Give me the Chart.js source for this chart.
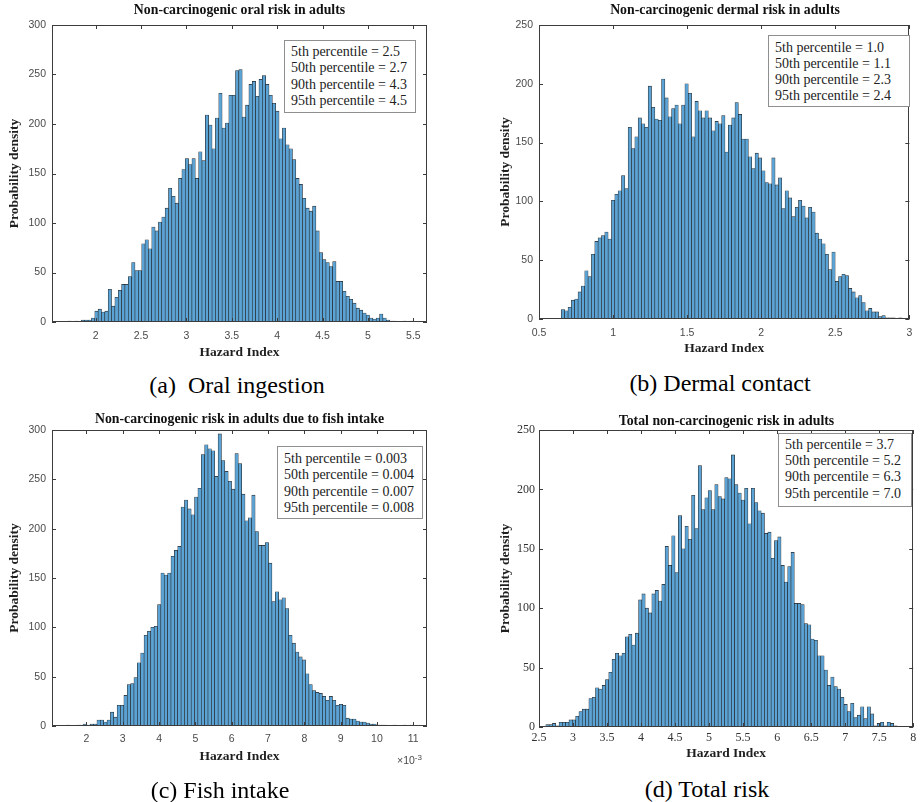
<!DOCTYPE html>
<html>
<head>
<meta charset="utf-8">
<script src="https://cdn.jsdelivr.net/npm/chart.js@4.4.1/dist/chart.umd.min.js"></script>
<style>
  html, body { margin: 0; padding: 0; background: #fff; overflow: hidden; }
  body { width: 920px; height: 802px; position: relative; }
  canvas { position: absolute; }
  .ttl { position: absolute; transform: translate(-50%, -50%); font: bold 13.8px "Liberation Serif", serif; color: #111; white-space: nowrap; line-height: 1; }
  .stats { position: absolute; box-sizing: border-box; border: 1px solid #8f8f8f; background: #fff; font: 14px "Liberation Serif", serif; color: #222; white-space: nowrap; padding-left: 6px; }
  .cap { position: absolute; transform: translate(-50%, -50%); font: 24px "Liberation Serif", serif; color: #000; white-space: nowrap; line-height: 1; }
  .exp { position: absolute; font: 10.5px "Liberation Sans", sans-serif; color: #4a4a4a; white-space: nowrap; line-height: 12px; }
  .exp sup { font-size: 8px; vertical-align: 4px; }
</style>
</head>
<body>

<canvas id="oral" width="440" height="362" style="left:0;top:0"></canvas>
<canvas id="dermal" width="429" height="359" style="left:491px;top:0"></canvas>
<canvas id="fish" width="440" height="366" style="left:0;top:400px"></canvas>
<canvas id="total" width="429" height="367" style="left:491px;top:400px"></canvas>

<div class="ttl" style="left:239.5px;top:10px">Non-carcinogenic oral risk in adults</div>
<div class="ttl" style="left:725px;top:10px">Non-carcinogenic dermal risk in adults</div>
<div class="ttl" style="left:239.5px;top:419px">Non-carcinogenic risk in adults due to fish intake</div>
<div class="ttl" style="left:726.5px;top:421px">Total non-carcinogenic risk in adults</div>

<div class="stats" id="oralStats" style="left:284px;top:40px;width:132px;height:73px;padding-top:3px;line-height:16.4px"></div>
<div class="stats" id="dermalStats" style="left:768px;top:35px;width:142px;height:72px;padding-top:4px;line-height:16.1px"></div>
<div class="stats" id="fishStats" style="left:277px;top:446px;width:146px;height:73px;padding-top:4px;line-height:16.4px"></div>
<div class="stats" id="totalStats" style="left:778px;top:433px;width:134px;height:74px;padding-top:3px;line-height:16.2px"></div>

<div class="exp" style="left:397px;top:752px">×10<sup>-3</sup></div>

<div class="cap" style="left:237px;top:385px">(a)&nbsp; Oral ingestion</div>
<div class="cap" style="left:720px;top:383px">(b) Dermal contact</div>
<div class="cap" style="left:220px;top:790px">(c) Fish intake</div>
<div class="cap" style="left:707px;top:789px">(d) Total risk</div>

<script>
// histogram bins: first bin edge, bin width, counts per bin
var oralEdge = 1.696
var oralBin = 0.0369
var oralCounts = [1, 0, 1, 0, 2, 2, 2, 4,
  11, 13, 10, 11, 33, 16, 25, 32, 38, 38, 46, 60, 52, 52, 79, 83, 74, 96, 92, 101, 106, 115,
  135, 127, 120, 145, 154, 165, 159, 165, 145, 172, 163, 209, 199, 175, 206, 231, 196, 201,
  229, 229, 254, 255, 207, 219, 240, 243, 228,
  245, 249, 240, 229, 221, 213, 185, 196, 179, 175, 164, 145, 139, 125, 115, 112, 117, 92,
  70, 63, 60, 56, 61, 41, 41, 31, 26, 23, 19, 14, 12, 9, 7, 4, 3, 4, 8, 4, 2, 1, 1, 0, 0, 1, 0, 1]
var oralXRange = [1.52, 5.65]
var oralStats = ['5th percentile = 2.5', '50th percentile = 2.7', '90th percentile = 4.3', '95th percentile = 4.5']

var dermalEdge = 0.651
var dermalBin = 0.02254
var dermalCounts = [8, 7, 10, 16, 17, 23, 28, 41, 36, 55, 66, 69, 71, 74, 68, 101, 106, 109, 122, 111,
  163, 145, 155, 171, 166, 163, 198, 180, 170, 169, 204, 188, 172, 179, 182, 166, 182, 200, 192,
  155, 185, 177, 171, 177,
  171, 160, 168, 166, 173, 142, 165, 171, 184, 174, 153, 153, 138, 128, 141, 137, 126, 116, 115,
  137, 114, 120, 94, 109, 103, 87, 95, 101, 96, 86, 95, 91, 73, 68, 64, 55, 42, 57, 32, 36, 38,
  37, 26, 23, 18, 20, 14, 7, 9, 6, 6, 2, 3, 1, 1, 1, 0, 1]
var dermalXRange = [0.5, 3]
var dermalStats = ['5th percentile = 1.0', '50th percentile = 1.1', '90th percentile = 2.3', '95th percentile = 2.4']

// fish intake hazard index in units of 1e-3
var fishEdge = 1.454
var fishBin = 0.0927
var fishCounts = [1, 0, 0, 1, 1, 2, 1, 2, 2, 6, 6, 4, 6, 14, 9, 21, 21, 31, 42, 43, 49, 64, 74, 92, 96,
  100, 101, 123, 155, 153, 155, 172, 178, 182, 222, 229, 220, 214, 232, 241, 275, 285, 281, 279,
  253, 296, 269, 258, 248, 240, 276, 266, 235, 208, 211, 234, 197, 183, 183, 186, 165, 126, 136,
  128, 130, 119, 92, 84, 75, 70, 67, 53, 42, 36, 34, 33, 30, 26, 30, 26, 21, 22, 21, 8, 7, 7, 5,
  4, 4, 3, 2, 2, 1, 1, 1, 0, 0, 1, 0, 0, 1, 0, 1]
var fishXRange = [1.05, 11.38]
var fishStats = ['5th percentile = 0.003', '50th percentile = 0.004', '90th percentile = 0.007', '95th percentile = 0.008']

var totalEdge = 2.6
var totalBin = 0.0487
var totalCounts = [2, 2, 3, 1, 4, 4, 4, 6, 6, 9, 13, 15, 15, 24, 25, 33, 32, 35, 40, 46, 57, 62, 60,
  62, 76, 78, 69, 79, 107, 112, 100, 96, 112, 115, 106, 120, 152, 136, 161, 130, 178, 150, 169,
  158, 195, 167, 220, 183, 193, 199, 183,
  204, 194, 192, 210, 209, 229, 204, 197, 191, 201, 171, 201, 189, 182, 180, 163, 164, 142, 157,
  160, 136, 122, 135, 147, 104, 104, 103, 87, 86, 74, 73, 60, 60, 48, 35, 42, 34, 32, 25, 19, 13,
  20, 8, 10, 17, 7, 17, 11, 1, 3, 4, 1, 4, 3, 1]
var totalXRange = [2.5, 8]
var totalStats = ['5th percentile = 3.7', '50th percentile = 5.2', '90th percentile = 6.3', '95th percentile = 7.0']

var barFill = 'rgb(92,163,213)'
var barEdge = 'rgba(25,25,25,0.95)'
var sansTicks = { family: 'Liberation Sans', size: 10.5 }
var serifTicks = { family: 'Liberation Serif', size: 12 }
var axisFont = { family: 'Liberation Serif', size: 13.5, weight: 'bold' }

function binPoints(edge, bin, counts) {
  return counts.map(function (c, i) { return { x: edge + (i + 0.5) * bin, y: c } })
}

// matlab style box with inward ticks on all four sides
var boxTicks = {
  id: 'boxTicks',
  afterDatasetsDraw: function (chart) {
    var a = chart.chartArea, ctx = chart.ctx
    var xs = chart.scales.x, ys = chart.scales.y
    ctx.save()
    ctx.strokeStyle = '#3c3c3c'
    ctx.lineWidth = 1
    ctx.beginPath()
    xs.ticks.forEach(function (t) {
      var px = Math.round(xs.getPixelForValue(t.value)) + 0.5
      ctx.moveTo(px, a.bottom); ctx.lineTo(px, a.bottom - 4)
      ctx.moveTo(px, a.top); ctx.lineTo(px, a.top + 4)
    })
    ys.ticks.forEach(function (t) {
      var py = Math.round(ys.getPixelForValue(t.value)) + 0.5
      ctx.moveTo(a.left, py); ctx.lineTo(a.left + 4, py)
      ctx.moveTo(a.right, py); ctx.lineTo(a.right - 4, py)
    })
    ctx.stroke()
    ctx.strokeRect(Math.round(a.left) + 0.5, Math.round(a.top) + 0.5,
      Math.round(a.right - a.left) - 1, Math.round(a.bottom - a.top) - 1)
    ctx.restore()
  }
}

function drawHist(id, p) {
  new Chart(id, {
    type: 'bar',
    data: {
      datasets: [{
        data: binPoints(p.edge, p.bin, p.counts),
        backgroundColor: barFill,
        borderColor: barEdge,
        borderWidth: 0.6,
        barPercentage: 1,
        categoryPercentage: 1
      }]
    },
    options: {
      responsive: false,
      animation: false,
      devicePixelRatio: 1,
      layout: { padding: { top: p.top, right: p.right, left: 0, bottom: 0 } },
      plugins: { legend: { display: false }, tooltip: { enabled: false } },
      scales: {
        x: {
          type: 'linear', min: p.xRange[0], max: p.xRange[1], offset: false,
          grid: { display: false, drawTicks: false }, border: { display: false },
          ticks: {
            stepSize: p.xStep, includeBounds: false, autoSkip: false, maxRotation: 0,
            padding: p.xPad, font: p.tickFont, color: p.tickColor,
            callback: function (v) { return String(+v.toFixed(2)) }
          },
          title: { display: true, text: 'Hazard Index', font: axisFont, color: '#1f1f1f',
            padding: { top: 0, bottom: p.xTitlePad } },
          afterFit: function (s) { s.height = 40 }
        },
        y: {
          min: 0, max: p.yMax,
          grid: { display: false, drawTicks: false }, border: { display: false },
          ticks: { stepSize: 50, padding: p.yPad, font: p.tickFont, color: p.tickColor },
          title: { display: true, text: 'Probability density', font: axisFont, color: '#1f1f1f',
            padding: { top: 6, bottom: 0 } },
          afterFit: function (s) { s.width = p.yWidth }
        }
      }
    },
    plugins: [boxTicks]
  })
}

function fillStats(id, lines) {
  document.getElementById(id).innerHTML = lines.map(function (l) { return '<div>' + l + '</div>' }).join('')
}

drawHist('oral', { edge: oralEdge, bin: oralBin, counts: oralCounts, xRange: oralXRange, xStep: 0.5, yMax: 300,
  top: 25, right: 13, yWidth: 52, yPad: 6, xPad: 8, xTitlePad: 1, tickFont: sansTicks, tickColor: '#4a4a4a' })
drawHist('dermal', { edge: dermalEdge, bin: dermalBin, counts: dermalCounts, xRange: dermalXRange, xStep: 0.5, yMax: 250,
  top: 25, right: 9, yWidth: 48, yPad: 6, xPad: 7.7, xTitlePad: 2, tickFont: sansTicks, tickColor: '#4a4a4a' })
drawHist('fish', { edge: fishEdge, bin: fishBin, counts: fishCounts, xRange: fishXRange, xStep: 1, yMax: 300,
  top: 30, right: 13, yWidth: 52, yPad: 6, xPad: 6.4, xTitlePad: 1, tickFont: sansTicks, tickColor: '#4a4a4a' })
drawHist('total', { edge: totalEdge, bin: totalBin, counts: totalCounts, xRange: totalXRange, xStep: 0.5, yMax: 250,
  top: 30, right: 6, yWidth: 48, yPad: 4, xPad: 3.8, xTitlePad: 5, tickFont: serifTicks, tickColor: '#333' })

fillStats('oralStats', oralStats)
fillStats('dermalStats', dermalStats)
fillStats('fishStats', fishStats)
fillStats('totalStats', totalStats)
</script>
</body>
</html>
